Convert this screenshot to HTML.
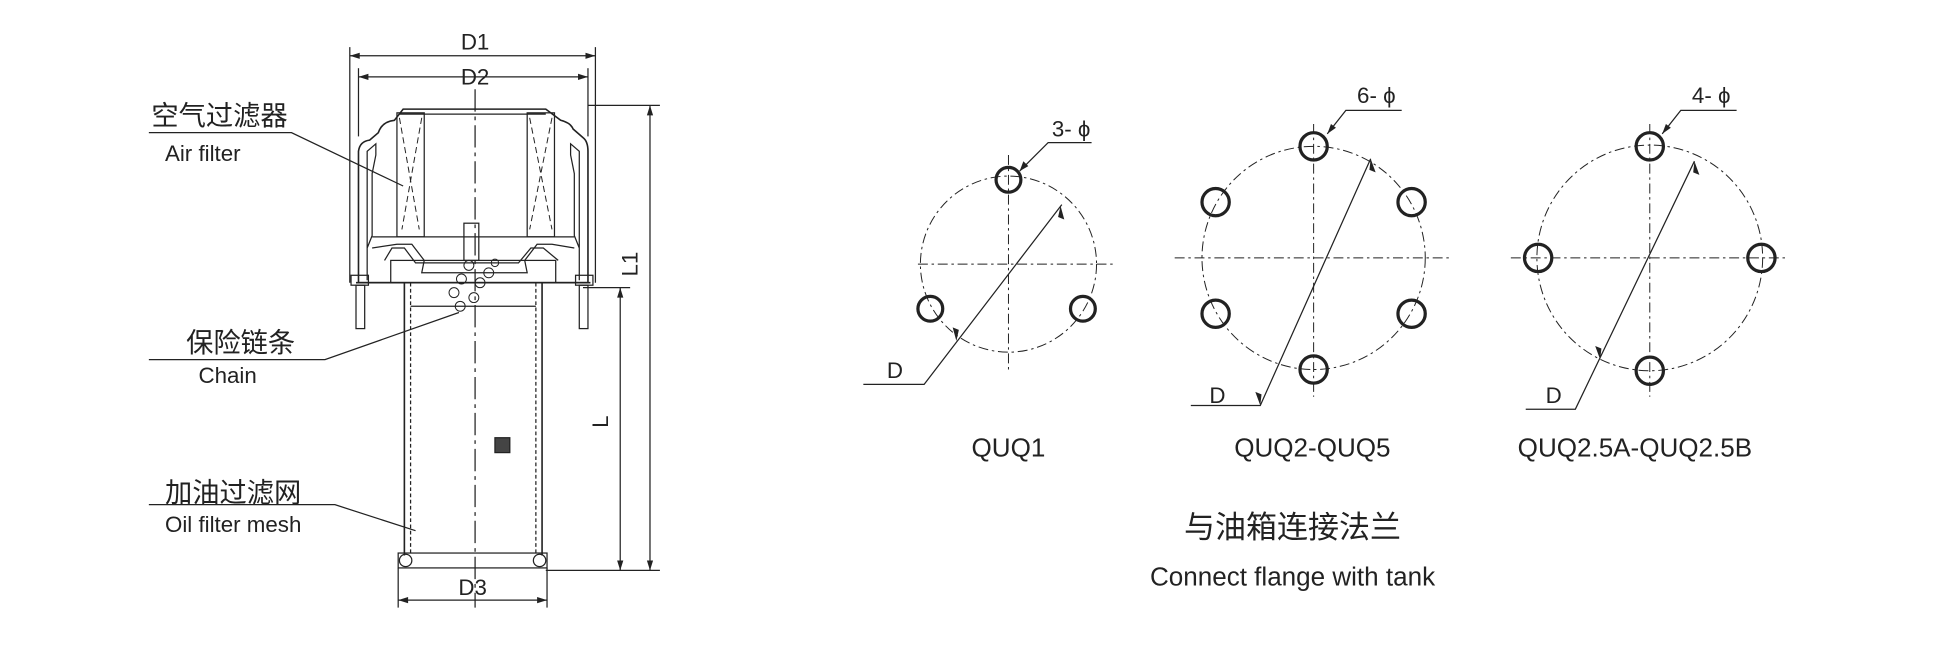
<!DOCTYPE html>
<html><head><meta charset="utf-8"><style>
html,body{margin:0;padding:0;background:#fff}
svg{display:block}
text{font-family:"Liberation Sans Narrow","Liberation Sans","Noto Sans CJK SC",sans-serif;fill:#222}
</style></head><body>
<svg width="1945" height="651" viewBox="0 0 1568 525" preserveAspectRatio="none" xmlns="http://www.w3.org/2000/svg">
<rect width="1568" height="525" fill="#fff"/>
<g stroke="#222" fill="none" stroke-width="1">
<!-- D1 D2 -->
<line x1="282" y1="38" x2="282" y2="228"/><line x1="480" y1="38" x2="480" y2="228"/>
<line x1="282" y1="45" x2="480" y2="45"/>
<line x1="289" y1="55" x2="289" y2="110"/><line x1="474" y1="55" x2="474" y2="110"/>
<line x1="289" y1="62" x2="474" y2="62"/>
<!-- center line -->
<line x1="383" y1="72" x2="383" y2="490" stroke-dasharray="18,4,3,4"/>
<!-- cap shell -->
<path d="M289,228 L289,122 Q290,114 298,113 L305,107 Q308,98 318,97 L325,88 L440,88 L452,97 Q460,99 462,104 L470,111 Q474,114 474,122 L474,228 Z" stroke-width="1.3"/>
<path d="M296,226 L296,122 L303,116 L303,125 L300,140 L300,190 L296,200"/>
<path d="M467,226 L467,122 L460,116 L460,125 L463,140 L463,190 L467,200"/>
<path d="M322,92 L440,92"/>
<!-- filter elements -->
<rect x="320" y="91" width="22" height="100"/>
<rect x="425" y="91" width="22" height="100"/>
<g stroke-dasharray="5,3" stroke-width="0.8">
<path d="M322,95 L338,185 M340,95 L324,185 M427,95 L445,185 M445,95 L427,185"/>
</g>
<!-- base -->
<path d="M300,191 L463,191"/>
<path d="M300,200 L320,197 L332,197 L342,210 L340,220 L425,220 L423,210 L433,197 L445,197 L463,200"/>
<path d="M310,210 L316,200 L326,200 L335,212 L345,212 L418,212 L428,200 L438,200 L450,210"/>
<rect x="315" y="210" width="133" height="18"/>
<rect x="374" y="180" width="12" height="30"/>
<path d="M287,228 L476,228" stroke-width="1.3"/>
<!-- studs -->
<rect x="283" y="222" width="14" height="8"/><rect x="287" y="230" width="7" height="35"/>
<rect x="464" y="222" width="14" height="8"/><rect x="467" y="230" width="7" height="35"/>
<!-- tube -->
<line x1="326" y1="228" x2="326" y2="448" stroke-width="1.3"/>
<line x1="331" y1="228" x2="331" y2="448" stroke-dasharray="3,2"/>
<line x1="437" y1="228" x2="437" y2="448" stroke-width="1.3"/>
<line x1="432" y1="228" x2="432" y2="448" stroke-dasharray="3,2"/>
<line x1="331" y1="247" x2="432" y2="247"/>
<rect x="321" y="446" width="120" height="12"/>
<circle cx="327" cy="452" r="5"/><circle cx="435" cy="452" r="5"/>
<!-- chain -->
<g stroke-width="0.8">
<circle cx="378" cy="214" r="4"/><circle cx="372" cy="225" r="4"/><circle cx="387" cy="228" r="4"/>
<circle cx="366" cy="236" r="4"/><circle cx="382" cy="240" r="4"/><circle cx="371" cy="247" r="4"/>
<circle cx="394" cy="220" r="4"/><circle cx="399" cy="212" r="3"/>
</g>
<rect x="399" y="353" width="12" height="12" fill="#444"/>
<!-- L / L1 -->
<line x1="474" y1="85" x2="532" y2="85"/><line x1="470" y1="232" x2="508" y2="232"/>
<line x1="440" y1="460" x2="532" y2="460"/>
<line x1="524" y1="85" x2="524" y2="460"/><line x1="500" y1="232" x2="500" y2="460"/>
<!-- D3 -->
<line x1="321" y1="458" x2="321" y2="490"/><line x1="441" y1="458" x2="441" y2="490"/>
<line x1="321" y1="484" x2="441" y2="484"/>
<!-- leaders -->
<path d="M120,107 L235,107 L325,150"/>
<path d="M120,290 L262,290 L370,252"/>
<path d="M120,407 L270,407 L335,428"/>
<!-- flanges -->
<g stroke-dasharray="8,3,2,3" stroke-width="0.8">
<circle cx="813" cy="213" r="71"/><circle cx="1059" cy="208" r="90"/><circle cx="1330" cy="208" r="91"/>
<line x1="740" y1="213" x2="900" y2="213"/><line x1="813" y1="125" x2="813" y2="300"/>
<line x1="947" y1="208" x2="1170" y2="208"/><line x1="1059" y1="100" x2="1059" y2="320"/>
<line x1="1218" y1="208" x2="1440" y2="208"/><line x1="1330" y1="100" x2="1330" y2="320"/>
</g>
<g stroke-width="2.6">
<circle cx="813" cy="145" r="10"/><circle cx="750" cy="249" r="10"/><circle cx="873" cy="249" r="10"/>
<circle cx="1059" cy="118" r="11"/><circle cx="1059" cy="298" r="11"/>
<circle cx="980" cy="163" r="11"/><circle cx="1138" cy="163" r="11"/>
<circle cx="980" cy="253" r="11"/><circle cx="1138" cy="253" r="11"/>
<circle cx="1330" cy="118" r="11"/><circle cx="1330" cy="299" r="11"/>
<circle cx="1240" cy="208" r="11"/><circle cx="1420" cy="208" r="11"/>
</g>
<path d="M696,310 L745,310 L856,165"/>
<path d="M960,327 L1016,327 L1105,128"/>
<path d="M1230,330 L1270,330 L1366,130"/>
<path d="M880,115 L845,115 L822,138"/>
<path d="M1130,89 L1085,89 L1070,108"/>
<path d="M1400,89 L1355,89 L1340,108"/>
</g>
<g fill="#222">
<path d="M480,45 l-8,-2.5 v5z M282,45 l8,-2.5 v5z M474,62 l-8,-2.5 v5z M289,62 l8,-2.5 v5z"/>
<path d="M321,484 l8,-2.5 v5z M441,484 l-8,-2.5 v5z"/>
<path d="M524,85 l-2.5,8 h5z M524,460 l-2.5,-8 h5z M500,232 l-2.5,8 h5z M500,460 l-2.5,-8 h5z"/>
<path d="M855,166 l-2,9 l5,2z M771,275 l2,-9 l-5,-2z M822,138 l3,-8 l4,4z"/>
<path d="M1105,128 l-1,9 l5,2z M1016,327 l1,-9 l-5,-2z M1016,285 l0,0z M1070,108 l3,-8 l4,3z"/>
<path d="M1366,130 l-1,9 l5,2z M1290,290 l1,-9 l-5,-2z M1340,108 l3,-8 l4,3z"/>
</g>
<g font-size="18">
<text x="383" y="40" text-anchor="middle">D1</text>
<text x="383" y="68" text-anchor="middle">D2</text>
<text x="381" y="480" text-anchor="middle">D3</text>
<text x="514" y="213" text-anchor="middle" transform="rotate(-90 514 213)">L1</text>
<text x="490" y="340" text-anchor="middle" transform="rotate(-90 490 340)">L</text>
<text x="122" y="101" font-size="22">空气过滤器</text>
<text x="133" y="130">Air filter</text>
<text x="150" y="284" font-size="22">保险链条</text>
<text x="160" y="309">Chain</text>
<text x="133" y="405" font-size="22">加油过滤网</text>
<text x="133" y="429">Oil filter mesh</text>
<text x="715" y="305">D</text>
<text x="975" y="325">D</text>
<text x="1246" y="325">D</text>
<text x="848" y="110">3- ϕ</text>
<text x="1094" y="83">6- ϕ</text>
<text x="1364" y="83">4- ϕ</text>
<text x="813" y="368" text-anchor="middle" font-size="21">QUQ1</text>
<text x="1058" y="368" text-anchor="middle" font-size="21">QUQ2-QUQ5</text>
<text x="1318" y="368" text-anchor="middle" font-size="21">QUQ2.5A-QUQ2.5B</text>
<text x="1042" y="434" text-anchor="middle" font-size="25">与油箱连接法兰</text>
<text x="1042" y="472" text-anchor="middle" font-size="21">Connect flange with tank</text>
</g>
</svg>
</body></html>
